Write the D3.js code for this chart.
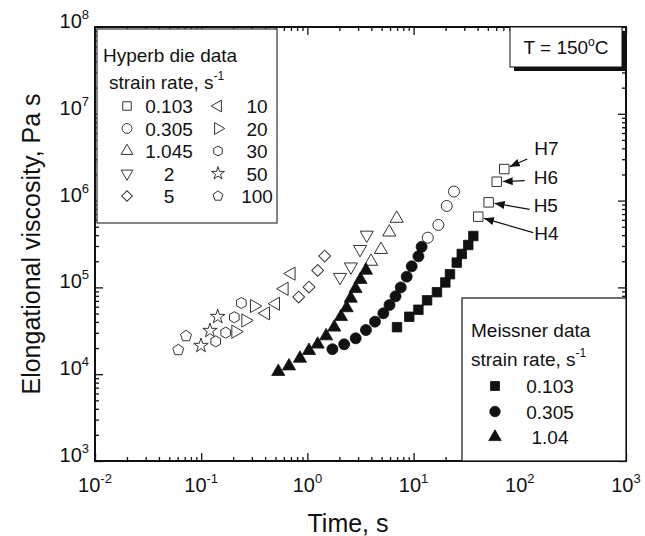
<!DOCTYPE html>
<html>
<head>
<meta charset="utf-8">
<script src="https://cdn.jsdelivr.net/npm/d3@7"></script>
<style>
body { margin: 0; background: #fff; }
text { font-family: "Liberation Sans", Arial, sans-serif; fill: #111; }
</style>
</head>
<body>
<script>
// Hyperb die data: [time s, viscosity Pa s]
var hyp0103 = [[40.6, 6.53e5], [50.9, 9.55e5], [60.6, 1.65e6], [71.4, 2.31e6]];
var hyp0305 = [[13.6, 3.74e5], [17.1, 5.24e5], [20.5, 8.67e5], [24.0, 1.27e6]];
var hyp1045 = [[3.97, 1.99e5], [4.93, 2.72e5], [5.90, 4.32e5], [6.93, 6.22e5]];
var hyp2 = [[2.03, 1.31e5], [2.57, 1.73e5], [3.13, 2.75e5], [3.62, 4.02e5]];
var hyp5 = [[0.828, 7.74e4], [1.035, 1.01e5], [1.25, 1.57e5], [1.455, 2.30e5]];
var hyp10 = [[0.405, 5.03e4], [0.503, 6.49e4], [0.606, 9.64e4], [0.705, 1.44e5]];
var hyp20 = [[0.211, 3.09e4], [0.262, 4.16e4], [0.316, 6.1e4]];
var hyp30 = [[0.137, 2.39e4], [0.170, 3.01e4], [0.205, 4.53e4], [0.239, 6.61e4]];
var hyp50 = [[0.0995, 2.13e4], [0.121, 3.17e4], [0.143, 4.59e4]];
var hyp100 = [[0.0608, 1.90e4], [0.072, 2.75e4]];

// Meissner data
var mei0103 = [[6.98, 3.48e4], [9.10, 4.59e4], [11.1, 5.53e4], [13.4, 7.10e4], [16.6, 8.81e4], [19.9, 1.14e5],
               [22.0, 1.42e5], [25.5, 1.93e5], [28.4, 2.43e5], [32.7, 3.08e5], [36.5, 3.91e5]];
var mei0305 = [[1.72, 1.94e4], [2.22, 2.21e4], [2.85, 2.59e4], [3.56, 3.23e4], [4.33, 4.03e4], [5.19, 5.03e4],
               [5.93, 6.27e4], [6.76, 7.89e4], [7.57, 1.00e5], [8.61, 1.33e5], [9.60, 1.75e5], [11.1, 2.28e5], [11.9, 2.94e5]];
var mei104 = [[0.532, 1.07e4], [0.671, 1.24e4], [0.851, 1.52e4], [1.035, 1.87e4], [1.25, 2.21e4], [1.50, 2.75e4],
              [1.79, 3.47e4], [2.07, 4.59e4], [2.34, 5.80e4], [2.56, 7.48e4], [2.84, 9.64e4], [3.16, 1.23e5], [3.56, 1.57e5]];

var hypRates = ["0.103", "0.305", "1.045", "2", "5", "10", "20", "30", "50", "100"];
var meiRates = ["0.103", "0.305", "1.04"];
var annoLabels = ["H4", "H5", "H6", "H7"];
var xExponents = [-2, -1, 0, 1, 2, 3];
var yExponents = [3, 4, 5, 6, 7, 8];

var width = 645, height = 536;
var pLeft = 95, pRight = 626, pTop = 27, pBottom = 461;

var x = d3.scaleLog().domain([1e-2, 1e3]).range([pLeft, pRight]);
var y = d3.scaleLog().domain([1e3, 1e8]).range([pBottom, pTop]);

var svg = d3.select("body").append("svg")
    .attr("width", width)
    .attr("height", height);

// regular polygon with a vertex on top
function polygon(n) {
  return {
    draw: function(ctx, size) {
      var r = Math.sqrt(size / (n / 2 * Math.sin(2 * Math.PI / n)));
      for (var i = 0; i < n; i++) {
        var a = -Math.PI / 2 + i * 2 * Math.PI / n;
        if (i) ctx.lineTo(r * Math.cos(a), r * Math.sin(a));
        else ctx.moveTo(r * Math.cos(a), r * Math.sin(a));
      }
      ctx.closePath();
    }
  };
}

var shapes = {
  square:  {type: d3.symbolSquare, rot: 0, size: 90},
  circle:  {type: d3.symbolCircle, rot: 0, size: 95},
  up:      {type: d3.symbolTriangle, rot: 0, size: 75},
  down:    {type: d3.symbolTriangle, rot: 180, size: 75},
  diamond: {type: d3.symbolSquare, rot: 45, size: 70},
  left:    {type: d3.symbolTriangle, rot: -90, size: 75},
  right:   {type: d3.symbolTriangle, rot: 90, size: 75},
  hex:     {type: polygon(6), rot: 0, size: 80},
  star:    {type: d3.symbolStar, rot: 0, size: 65},
  pent:    {type: polygon(5), rot: 0, size: 80}
};

var hypSeries = [
  {data: hyp0103, shape: "square"}, {data: hyp0305, shape: "circle"}, {data: hyp1045, shape: "up"},
  {data: hyp2, shape: "down"}, {data: hyp5, shape: "diamond"}, {data: hyp10, shape: "left"},
  {data: hyp20, shape: "right"}, {data: hyp30, shape: "hex"}, {data: hyp50, shape: "star"},
  {data: hyp100, shape: "pent"}
];
var meiSeries = [
  {data: mei0103, shape: "square"}, {data: mei0305, shape: "circle"}, {data: mei104, shape: "up"}
];

function symbolPath(name, scale) {
  var s = shapes[name];
  return d3.symbol().type(s.type).size(s.size * (scale || 1))();
}
function drawMarker(g, name, cx, cy, filled, scale) {
  g.append("path")
    .attr("d", symbolPath(name, scale))
    .attr("transform", "translate(" + cx + "," + cy + ") rotate(" + shapes[name].rot + ")")
    .attr("fill", filled ? "#111" : "none")
    .attr("stroke", filled ? "#111" : "#333")
    .attr("stroke-width", filled ? 0.8 : 1);
}

// ticks on all four sides, pointing inward
var xMajors = xExponents.map(function(e) { return Math.pow(10, e); });
var yMajors = yExponents.map(function(e) { return Math.pow(10, e); });
function minorsOf(exps) {
  var out = [];
  exps.slice(0, -1).forEach(function(e) {
    for (var m = 2; m < 10; m++) out.push(m * Math.pow(10, e));
  });
  return out;
}
var xMinors = minorsOf(xExponents), yMinors = minorsOf(yExponents);

function addAxis(axis, tx, ty) {
  var g = svg.append("g").attr("transform", "translate(" + tx + "," + ty + ")").call(axis);
  g.select(".domain").remove();
  g.selectAll("line").attr("stroke", "#111").attr("stroke-width", 1.3);
}
[[xMajors, 8], [xMinors, 4]].forEach(function(t) {
  addAxis(d3.axisBottom(x).tickValues(t[0]).tickSizeInner(-t[1]).tickSizeOuter(0).tickFormat(""), 0, pBottom);
  addAxis(d3.axisTop(x).tickValues(t[0]).tickSizeInner(-t[1]).tickSizeOuter(0).tickFormat(""), 0, pTop);
});
[[yMajors, 8], [yMinors, 4]].forEach(function(t) {
  addAxis(d3.axisLeft(y).tickValues(t[0]).tickSizeInner(-t[1]).tickSizeOuter(0).tickFormat(""), pLeft, 0);
  addAxis(d3.axisRight(y).tickValues(t[0]).tickSizeInner(-t[1]).tickSizeOuter(0).tickFormat(""), pRight, 0);
});

svg.append("rect")
    .attr("x", pLeft).attr("y", pTop)
    .attr("width", pRight - pLeft).attr("height", pBottom - pTop)
    .attr("fill", "none").attr("stroke", "#111").attr("stroke-width", 2);

// tick labels 10^n
xExponents.forEach(function(e) {
  svg.append("text")
      .attr("x", x(Math.pow(10, e))).attr("y", pBottom + 31)
      .attr("text-anchor", "middle").style("font-size", "20px")
    .call(function(t) {
      t.append("tspan").text("10");
      t.append("tspan").attr("dy", -9).style("font-size", "13px").text(e);
    });
});
yExponents.forEach(function(e) {
  svg.append("text")
      .attr("x", pLeft - 6).attr("y", y(Math.pow(10, e)) + 1)
      .attr("text-anchor", "end").style("font-size", "20px")
    .call(function(t) {
      t.append("tspan").text("10");
      t.append("tspan").attr("dy", -9).style("font-size", "13px").text(e);
    });
});

// axis titles
svg.append("text")
    .attr("x", 348).attr("y", 532)
    .attr("text-anchor", "middle").style("font-size", "25px")
    .text("Time, s");
svg.append("text")
    .attr("transform", "translate(40," + ((pTop + pBottom) / 2) + ") rotate(-90)")
    .attr("text-anchor", "middle").style("font-size", "25px")
    .text("Elongational viscosity, Pa s");

// data
var gData = svg.append("g");
hypSeries.forEach(function(s) {
  s.data.forEach(function(d) { drawMarker(gData, s.shape, x(d[0]), y(d[1]), false); });
});
meiSeries.forEach(function(s) {
  s.data.forEach(function(d) { drawMarker(gData, s.shape, x(d[0]), y(d[1]), true); });
});

// H4..H7 annotations on the 0.103 hyperb points
svg.append("defs").append("marker")
    .attr("id", "arrow")
    .attr("viewBox", "0 0 10 8")
    .attr("refX", 10).attr("refY", 4)
    .attr("markerWidth", 10).attr("markerHeight", 8)
    .attr("markerUnits", "userSpaceOnUse")
    .attr("orient", "auto")
  .append("path")
    .attr("d", "M0,0L10,4L0,8Z")
    .attr("fill", "#111");

var annoOffset = [[56, 16], [45, 3], [37, -5], [30, -21]];
var arrowStart = [[-1, 0], [-4, 4], [-9, 4], [-7, 11]];
annoLabels.forEach(function(lab, i) {
  var px = x(hyp0103[i][0]), py = y(hyp0103[i][1]);
  var tx = px + annoOffset[i][0], ty = py + annoOffset[i][1];
  svg.append("text")
      .attr("x", tx).attr("y", ty + 7)
      .style("font-size", "19px")
      .text(lab);
  var sx = tx + arrowStart[i][0], sy = ty + arrowStart[i][1];
  var dx = sx - px, dy = sy - py, len = Math.sqrt(dx * dx + dy * dy);
  svg.append("line")
      .attr("x1", sx).attr("y1", sy)
      .attr("x2", px + dx / len * 6).attr("y2", py + dy / len * 6)
      .attr("stroke", "#111").attr("stroke-width", 1.2)
      .attr("marker-end", "url(#arrow)");
});

// Hyperb legend
var lg = svg.append("g");
lg.append("rect")
    .attr("x", 97).attr("y", 29).attr("width", 180).attr("height", 194)
    .attr("fill", "#fff").attr("stroke", "#444").attr("stroke-width", 1.3);
lg.append("text").attr("x", 103).attr("y", 62).style("font-size", "19px").text("Hyperb die data");
lg.append("text").attr("x", 109).attr("y", 89).style("font-size", "19px")
  .call(function(t) {
    t.append("tspan").text("strain rate, s");
    t.append("tspan").attr("dy", -9).style("font-size", "12px").text("-1");
  });
hypSeries.forEach(function(s, i) {
  var col = i < 5 ? 0 : 1, row = i % 5;
  var cy = 106 + row * 22.5;
  drawMarker(lg, s.shape, col ? 218 : 127, cy, false, 0.8);
  lg.append("text")
      .attr("x", col ? 257 : 169).attr("y", cy + 7)
      .attr("text-anchor", "middle").style("font-size", "19px")
      .text(hypRates[i]);
});

// temperature box
var tb = svg.append("g");
tb.append("rect").attr("x", 514).attr("y", 31).attr("width", 112).attr("height", 40).attr("fill", "#111");
tb.append("rect").attr("x", 510).attr("y", 27).attr("width", 112).attr("height", 40)
    .attr("fill", "#fff").attr("stroke", "#111").attr("stroke-width", 1);
tb.append("text").attr("x", 566).attr("y", 54).attr("text-anchor", "middle").style("font-size", "19px")
  .call(function(t) {
    t.append("tspan").text("T = 150");
    t.append("tspan").attr("dy", -8).style("font-size", "12px").text("o");
    t.append("tspan").attr("dy", 8).text("C");
  });

// Meissner legend
var mg = svg.append("g");
mg.append("rect")
    .attr("x", 462).attr("y", 298).attr("width", 164).attr("height", 163)
    .attr("fill", "#fff").attr("stroke", "#111").attr("stroke-width", 1.2);
mg.append("text").attr("x", 471).attr("y", 337).style("font-size", "19px").text("Meissner data");
mg.append("text").attr("x", 471).attr("y", 366).style("font-size", "19px")
  .call(function(t) {
    t.append("tspan").text("strain rate, s");
    t.append("tspan").attr("dy", -9).style("font-size", "12px").text("-1");
  });
meiSeries.forEach(function(s, i) {
  var cy = 386 + i * 25.5;
  drawMarker(mg, s.shape, 495, cy, true, 0.9);
  mg.append("text")
      .attr("x", 550).attr("y", cy + 7)
      .attr("text-anchor", "middle").style("font-size", "19px")
      .text(meiRates[i]);
});
</script>
</body>
</html>
